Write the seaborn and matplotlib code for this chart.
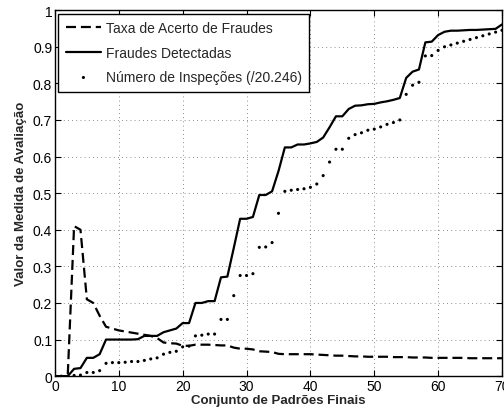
import numpy as np
import pandas as pd
import matplotlib
matplotlib.use("Agg")
import matplotlib.pyplot as plt
import seaborn as sns

# x positions: each final pattern set 0..70
conjuntos = list(range(0, 71))

taxa_acerto = [
    0.0, 0.0, 0.0, 0.41, 0.40, 0.21, 0.20, 0.165, 0.135, 0.13,
    0.125, 0.122, 0.119, 0.116, 0.113, 0.11, 0.104, 0.092, 0.09, 0.089,
    0.083, 0.083, 0.086, 0.086, 0.086, 0.085, 0.084, 0.084, 0.078, 0.075,
    0.075, 0.073, 0.068, 0.067, 0.066, 0.061, 0.06, 0.06, 0.06, 0.06,
    0.06, 0.059, 0.058, 0.057, 0.056, 0.056, 0.055, 0.054, 0.054, 0.053,
    0.053, 0.053, 0.053, 0.052, 0.052, 0.052, 0.051, 0.051, 0.051, 0.05,
    0.05, 0.05, 0.05, 0.05, 0.05, 0.049, 0.049, 0.049, 0.049, 0.049,
    0.049,
]

fraudes_detectadas = [
    0.0, 0.0, 0.0, 0.02, 0.022, 0.05, 0.05, 0.06, 0.10, 0.10,
    0.10, 0.10, 0.10, 0.101, 0.11, 0.11, 0.11, 0.12, 0.125, 0.13,
    0.145, 0.145, 0.20, 0.20, 0.205, 0.205, 0.27, 0.272, 0.35, 0.43,
    0.43, 0.435, 0.495, 0.495, 0.505, 0.56, 0.625, 0.625, 0.633, 0.633,
    0.636, 0.64, 0.652, 0.68, 0.71, 0.71, 0.73, 0.739, 0.74, 0.743,
    0.744, 0.748, 0.751, 0.755, 0.76, 0.815, 0.832, 0.838, 0.912, 0.914,
    0.932, 0.941, 0.944, 0.944, 0.945, 0.946, 0.946, 0.947, 0.948, 0.949,
    0.961,
]

numero_inspecoes = [
    0.0, 0.0, 0.0, 0.002, 0.003, 0.01, 0.01, 0.015, 0.035, 0.037,
    0.037, 0.038, 0.04, 0.04, 0.043, 0.047, 0.05, 0.06, 0.065, 0.068,
    0.08, 0.082, 0.11, 0.112, 0.115, 0.115, 0.155, 0.155, 0.22, 0.275,
    0.275, 0.28, 0.352, 0.353, 0.365, 0.445, 0.505, 0.508, 0.51, 0.512,
    0.516, 0.525, 0.548, 0.585, 0.62, 0.62, 0.65, 0.66, 0.665, 0.672,
    0.675, 0.681, 0.688, 0.693, 0.70, 0.77, 0.795, 0.803, 0.875, 0.876,
    0.89, 0.90, 0.905, 0.91, 0.915, 0.92, 0.925, 0.93, 0.935, 0.94,
    0.945,
]

df = pd.DataFrame({
    "x": conjuntos,
    "taxa": taxa_acerto,
    "fraudes": fraudes_detectadas,
    "insp": numero_inspecoes,
})

sns.set_theme(style="ticks")
plt.rcParams["font.family"] = ["Liberation Sans", "DejaVu Sans"]
plt.rcParams["xtick.direction"] = "in"
plt.rcParams["ytick.direction"] = "in"

fig = plt.figure(figsize=(5.04, 4.14), dpi=100)
ax = fig.add_axes([0.109, 0.089, 0.887, 0.884])

sns.lineplot(data=df, x="x", y="taxa", ax=ax, color="black", lw=1.6,
             label="Taxa de Acerto de Fraudes")
ax.lines[-1].set_dashes([4.5, 2.2])
sns.lineplot(data=df, x="x", y="fraudes", ax=ax, color="black", lw=1.6,
             label="Fraudes Detectadas")
sns.scatterplot(data=df, x="x", y="insp", ax=ax, color="black", s=5,
                marker="o", edgecolor="none",
                label="Número de Inspeções (/20.246)")

ax.set_xlim(0, 70)
ax.set_ylim(0, 1)
ax.set_xticks(np.arange(0, 71, 10))
ax.set_yticks(np.arange(0, 1.01, 0.1))
ax.set_yticklabels(["0", "0.1", "0.2", "0.3", "0.4", "0.5", "0.6",
                    "0.7", "0.8", "0.9", "1"])
ax.tick_params(labelsize=10, length=4, width=0.8, colors="black",
               top=True, right=True, pad=2)
ax.grid(True, color="black", ls=(0, (1, 4)), lw=0.6, alpha=0.6)
for sp in ax.spines.values():
    sp.set_visible(True)
    sp.set_color("black")
    sp.set_linewidth(1.0)

ax.set_xlabel("Conjunto de Padrões Finais", fontsize=9.5, fontweight="bold",
              labelpad=1)
ax.set_ylabel("Valor da Medida de Avaliação", fontsize=9.5, fontweight="bold",
              labelpad=4)

leg = ax.legend(loc="upper left", fontsize=10, frameon=True, fancybox=False,
                edgecolor="black", framealpha=1, borderaxespad=0.25,
                borderpad=0.55, handlelength=2.5, handletextpad=0.35,
                labelspacing=0.75, markerscale=1.0)
leg.get_frame().set_linewidth(1.0)

fig.savefig("out.png", dpi=100)
